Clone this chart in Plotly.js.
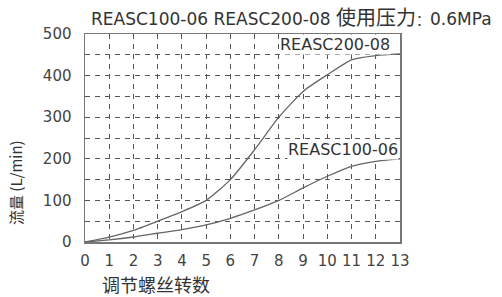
<!DOCTYPE html>
<html><head><meta charset="utf-8">
<script src="https://cdn.plot.ly/plotly-3.0.1.min.js"></script>
<style>html,body{margin:0;padding:0;background:#fff}</style>
</head><body><div id="chart" style="width:502px;height:297px"></div>
<script>
const turns = [0,1,2,3,4,5,6,7,8,9,10,11,12,13];
const flow200 = [0,12,28,50,73,100,150,222,300,362,402,438,448,452];
const flow100 = [0,5,12,21,30,41,57,77,100,130,158,182,194,200];
const seriesNames = ["REASC200-08","REASC100-06"];
const titleLatin = "REASC100-06 REASC200-08 ";
const titleCJK = "使用压力";
const titleTail = "0.6MPa";
const xTitle = "调节螺丝转数";
const yTitle = "流量 (L/min)";
const xTicks = turns;
const yTicks = [0,100,200,300,400,500];

const latin = "'DejaVu Sans', sans-serif";
const cjk = "'Noto Sans CJK SC', sans-serif";
const L = 85, R = 400, T = 34, B = 242;
const px = x => (x - L) / (R - L);
const py = y => (B - y) / (B - T);

const lineStyle = {color:'#666', width:1.3, shape:'spline', smoothing:0.6};
const traces = [
  {x:turns, y:flow200, mode:'lines', line:lineStyle, name:seriesNames[0], hoverinfo:'skip'},
  {x:turns, y:flow100, mode:'lines', line:lineStyle, name:seriesNames[1], hoverinfo:'skip'}
];
const grid = {gridcolor:'#555', griddash:'5px,5px', gridwidth:1};
const layout = {
  width:502, height:297,
  margin:{l:L, r:502-R, t:T, b:297-B},
  paper_bgcolor:'#fff', plot_bgcolor:'#fff',
  showlegend:false,
  font:{family:latin, size:15, color:'#444'},
  xaxis:Object.assign({range:[0,13], tickvals:xTicks, ticktext:xTicks.map(String), showgrid:true,
         showline:true, linecolor:'#777', linewidth:1.5, mirror:true, zeroline:false,
         ticks:'', ticklabelstandoff:4, tickfont:{family:latin, size:15, color:'#444'}}, grid),
  yaxis:Object.assign({range:[0,500], tickvals:yTicks, showgrid:true,
         minor:Object.assign({dtick:50, showgrid:true}, grid),
         showline:true, linecolor:'#777', linewidth:1.5, mirror:true, zeroline:false,
         ticks:'', ticklabelstandoff:9, tickfont:{family:latin, size:15, color:'#444'}}, grid),
  annotations:[
    {text:titleLatin + '<span style="font-family:Noto Sans CJK SC;font-size:20px">' + titleCJK +
          '</span><span style="font-family:Noto Sans CJK SC;font-size:14px">：</span>' + titleTail,
     x:px(89), y:py(16), xref:'paper', yref:'paper', xanchor:'left', yanchor:'middle', showarrow:false,
     font:{family:latin, size:17, color:'#333'}},
    {text:seriesNames[0], x:px(335), y:py(44), xref:'paper', yref:'paper', showarrow:false,
     xanchor:'center', yanchor:'middle', borderpad:0,
     font:{family:latin, size:16, color:'#333'}, bgcolor:'#fff'},
    {text:seriesNames[1], x:px(343), y:py(149), xref:'paper', yref:'paper', showarrow:false,
     xanchor:'center', yanchor:'middle', borderpad:0,
     font:{family:latin, size:16, color:'#333'}, bgcolor:'#fff'},
    {text:xTitle, x:px(156), y:py(284), xref:'paper', yref:'paper', showarrow:false,
     xanchor:'center', yanchor:'middle',
     font:{family:cjk, size:18, color:'#333'}},
    {text:yTitle, x:px(15), y:py(183), xref:'paper', yref:'paper', showarrow:false, textangle:-90,
     xanchor:'center', yanchor:'middle',
     font:{family:cjk, size:15, color:'#333'}}
  ]
};
Plotly.newPlot('chart', traces, layout, {displayModeBar:false, staticPlot:true});
</script></body></html>
